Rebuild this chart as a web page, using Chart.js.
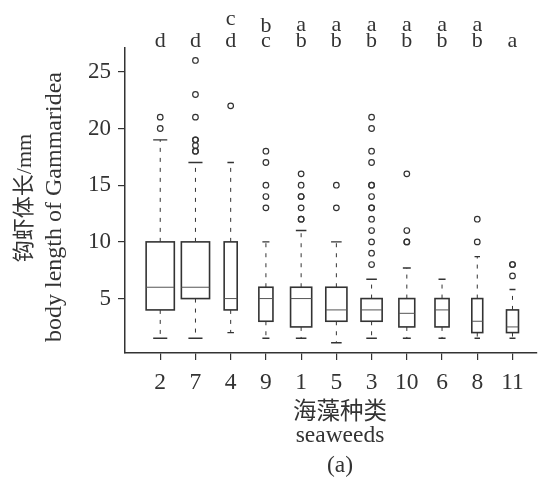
<!DOCTYPE html>
<html lang="zh">
<head>
    <meta charset="UTF-8">
    <title>Gammaridea body length by seaweed</title>
    <script src="https://cdn.jsdelivr.net/npm/chart.js"></script>
    <style>
        body { margin: 0; padding: 0; background: #fff; }
        #wrap { width: 542px; height: 482px; }
    </style>
</head>
<body>
    <div id="wrap"><canvas id="boxChart" width="542" height="482"></canvas></div>

    <script>
        // seaweed species, in plotted order
        const categories = ['2', '7', '4', '9', '1', '5', '3', '10', '6', '8', '11'];

        // five-number summaries (mm)
        const lowerWhisker = [1.5, 1.5, 2, 1.5, 1.5, 1.1, 1.5, 1.5, 1.5, 1.5, 1.5];
        const q1           = [4, 5, 4, 3, 2.5, 3, 3, 2.5, 2.5, 2, 2];
        const median       = [6, 6, 5, 5, 5, 4, 4, 3.7, 4, 3, 2.5];
        const q3           = [10, 10, 10, 6, 6, 6, 5, 5, 5, 5, 4];
        const upperWhisker = [19, 17, 17, 10, 11, 10, 6.7, 7.7, 6.7, 8.7, 5.8];

        // outliers per species
        const outliers = [
            [20, 21],
            [18, 18, 18.5, 19, 19, 21, 23, 26],
            [22],
            [13, 14, 15, 17, 18],
            [12, 12, 13, 14, 14, 15, 16],
            [13, 15],
            [8, 9, 10, 11, 12, 13, 13, 14, 15, 15, 17, 18, 20, 21],
            [10, 10, 11, 16],
            [],
            [10, 12],
            [7, 8, 8]
        ];

        // significance letters (two rows above the plot)
        const lettersTop    = ['', '', 'c', 'b', 'a', 'a', 'a', 'a', 'a', 'a', ''];
        const lettersBottom = ['d', 'd', 'd', 'c', 'b', 'b', 'b', 'b', 'b', 'b', 'a'];

        const yTicks = [5, 10, 15, 20, 25];

        // box widths as a share of the category spacing (varwidth look)
        const boxWidth = [0.8, 0.8, 0.37, 0.4, 0.6, 0.6, 0.6, 0.45, 0.4, 0.31, 0.34];

        const INK = '#333';
        const SERIF = '"Liberation Serif", "Noto Sans CJK SC", serif';
        // baseline of the upper letter row; R put them a bit unevenly
        const topBaseline = { a: 31, b: 32, c: 25 };

        const outlierPoints = [];
        outliers.forEach((list, i) => list.forEach(v => outlierPoints.push({ x: i + 1, y: v })));

        const boxPlugin = {
            id: 'boxes',
            afterDatasetsDraw(chart) {
                const ctx = chart.ctx;
                const xs = chart.scales.x, ys = chart.scales.y;
                const step = xs.getPixelForValue(2) - xs.getPixelForValue(1);
                ctx.save();
                categories.forEach((c, i) => {
                    const cx = xs.getPixelForValue(i + 1);
                    const half = boxWidth[i] * step / 2;
                    const cap = half * 0.5;
                    const yq1 = ys.getPixelForValue(q1[i]);
                    const yq3 = ys.getPixelForValue(q3[i]);
                    const ymed = ys.getPixelForValue(median[i]);
                    const ylo = ys.getPixelForValue(lowerWhisker[i]);
                    const yhi = ys.getPixelForValue(upperWhisker[i]);

                    // whiskers
                    ctx.strokeStyle = INK;
                    ctx.lineWidth = 1;
                    ctx.setLineDash([4, 6]);
                    ctx.beginPath();
                    ctx.moveTo(cx, yq3); ctx.lineTo(cx, yhi);
                    ctx.moveTo(cx, yq1); ctx.lineTo(cx, ylo);
                    ctx.stroke();
                    ctx.setLineDash([]);
                    ctx.lineWidth = 1.4;
                    ctx.beginPath();
                    ctx.moveTo(cx - cap, yhi); ctx.lineTo(cx + cap, yhi);
                    ctx.moveTo(cx - cap, ylo); ctx.lineTo(cx + cap, ylo);
                    ctx.stroke();

                    // box
                    ctx.fillStyle = '#fff';
                    ctx.fillRect(cx - half, yq3, half * 2, yq1 - yq3);
                    ctx.lineWidth = 1.6;
                    ctx.strokeRect(cx - half, yq3, half * 2, yq1 - yq3);

                    // median
                    ctx.lineWidth = 1;
                    ctx.strokeStyle = '#555';
                    ctx.beginPath();
                    ctx.moveTo(cx - half, ymed); ctx.lineTo(cx + half, ymed);
                    ctx.stroke();
                });

                // letters above
                ctx.fillStyle = INK;
                ctx.font = '22px ' + SERIF;
                ctx.textAlign = 'center';
                ctx.textBaseline = 'alphabetic';
                categories.forEach((c, i) => {
                    const cx = xs.getPixelForValue(i + 1);
                    if (lettersTop[i]) ctx.fillText(lettersTop[i], cx, topBaseline[lettersTop[i]]);
                    ctx.fillText(lettersBottom[i], cx, 47);
                });

                // x title
                ctx.font = '23.5px ' + SERIF;
                ctx.textBaseline = 'middle';
                ctx.fillText('海藻种类', 340, 413);
                ctx.fillText('seaweeds', 340, 436);
                ctx.fillText('(a)', 340, 466);

                // y title, two rotated lines
                ctx.save();
                ctx.translate(25, 198);
                ctx.rotate(-Math.PI / 2);
                ctx.font = '22px ' + SERIF;
                ctx.fillText('钩虾体长/mm', 0, 0);
                ctx.restore();
                ctx.save();
                ctx.translate(55, 207);
                ctx.rotate(-Math.PI / 2);
                ctx.font = '24px ' + SERIF;
                ctx.fillText('body length of Gammaridea', 0, 0);
                ctx.restore();
                ctx.restore();
            }
        };

        new Chart(document.getElementById('boxChart'), {
            type: 'scatter',
            data: {
                datasets: [{
                    label: 'outliers',
                    data: outlierPoints,
                    pointStyle: 'circle',
                    pointRadius: 2.8,
                    pointBorderWidth: 1.2,
                    borderColor: INK,
                    backgroundColor: 'rgba(0,0,0,0)'
                }]
            },
            options: {
                responsive: false,
                animation: false,
                layout: { padding: { top: 48, right: 1, left: 0, bottom: 0 } },
                plugins: { legend: { display: false }, tooltip: { enabled: false } },
                scales: {
                    x: {
                        type: 'linear',
                        min: 0,
                        max: 11.69,
                        afterBuildTicks: s => { s.ticks = categories.map((c, i) => ({ value: i + 1 })); },
                        afterFit: s => { s.height = 129; },
                        ticks: {
                            callback: (v) => categories[v - 1],
                            font: { family: SERIF, size: 23.5 },
                            color: INK,
                            padding: 9,
                            maxRotation: 0,
                            autoSkip: false
                        },
                        grid: { display: true, drawOnChartArea: false, drawTicks: true, tickLength: 7, color: INK, lineWidth: 1.2 },
                        border: { display: true, color: INK, width: 1.5 }
                    },
                    y: {
                        min: 0.2,
                        max: 27.1,
                        afterBuildTicks: s => { s.ticks = yTicks.map(v => ({ value: v })); },
                        afterFit: s => { s.width = 125; },
                        ticks: {
                            font: { family: SERIF, size: 23 },
                            color: INK,
                            padding: 7
                        },
                        grid: { display: true, drawOnChartArea: false, drawTicks: true, tickLength: 7, color: INK, lineWidth: 1.2 },
                        border: { display: true, color: INK, width: 1.5 }
                    }
                }
            },
            plugins: [boxPlugin]
        });
    </script>
</body>
</html>
